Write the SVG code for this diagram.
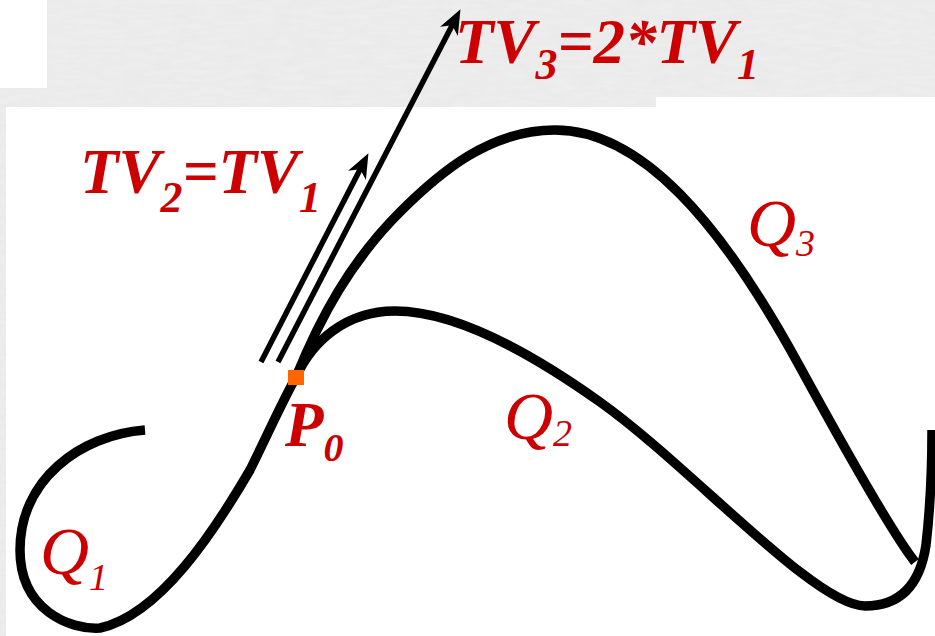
<svg xmlns="http://www.w3.org/2000/svg" width="935" height="636" viewBox="0 0 935 636">
<defs>
<style>
.bg{fill:#efefef}
.curve{fill:none;stroke:#000;stroke-width:9.5;stroke-linejoin:round}
.vec{fill:none;stroke:#000;stroke-width:5.5}
</style>
<filter id="tex" x="0" y="0" width="100%" height="100%">
<feTurbulence type="fractalNoise" baseFrequency="0.04 0.2" numOctaves="3" seed="4"/>
<feColorMatrix values="0 0 0 0 0.6  0 0 0 0 0.6  0 0 0 0 0.6  0 0 0 0.2 0"/>
</filter>
<marker id="arr" markerUnits="userSpaceOnUse" markerWidth="50" markerHeight="50" refX="0" refY="0" viewBox="-25 -25 50 50" orient="auto">
<path d="M13,0 L-12,-10 L-5,0 L-12,10 Z" fill="#000"/>
</marker>
</defs>
<g id="background">
<rect class="bg" x="0" y="0" width="935" height="636"/>
<rect x="0" y="0" width="935" height="636" filter="url(#tex)"/>
<rect x="0" y="0" width="47" height="88" fill="#fff"/>
<rect x="6" y="107" width="929" height="529" fill="#fff"/>
<rect x="656" y="97" width="279" height="12" fill="#fff"/>
</g>
<g id="connectors">
<path id="Q1" class="curve" d="M145,430 C80,435 20,480 20,550 C20,610 70,630 100,628 C160,615 215,530 250,470 C265,440 282,402 296,377"/>
<path id="Q2" class="curve" d="M296,377 C312,342 345,311 395,311 C450,311 520,345 600,402 C690,466 815,606 865,606 C900,606 920,585 926,545 C930,510 932,470 932,430"/>
<path id="Q3" class="curve" d="M296,377 C320,318 350,262 400,212 C440,172 490,130 555,130 C640,130 720,220 800,367 C835,431 890,530 915,562"/>
<line id="TV2" class="vec" x1="261" y1="362" x2="362.5" y2="164.7" marker-end="url(#arr)"/>
<line id="TV3" class="vec" x1="278" y1="362" x2="454.5" y2="20.7" marker-end="url(#arr)"/>
</g>
<g fill="#cc0000" font-family="'Liberation Serif', 'Times New Roman', serif" font-style="italic">
<g id="P0">
<rect x="288" y="370" width="16" height="15" fill="#ff6600"/>
<text font-weight="bold" x="285" y="446" font-size="63">P<tspan font-size="40" dy="15">0</tspan></text>
</g>
<g id="label-TV3">
<text font-weight="bold" x="455" y="63" font-size="63">TV<tspan font-size="44" dy="16">3</tspan><tspan dy="-16">=2*TV</tspan><tspan font-size="44" dy="16">1</tspan></text>
</g>
<g id="label-TV2">
<text font-weight="bold" x="80" y="193" font-size="63">TV<tspan font-size="44" dy="19">2</tspan><tspan dy="-19">=TV</tspan><tspan font-size="44" dy="19">1</tspan></text>
</g>
<g id="label-Q1">
<text x="40" y="574" font-size="68">Q<tspan font-size="38" dy="16">1</tspan></text>
</g>
<g id="label-Q2">
<text x="504" y="439" font-size="68">Q<tspan font-size="38" dy="7">2</tspan></text>
</g>
<g id="label-Q3">
<text x="747" y="246" font-size="68">Q<tspan font-size="38" dy="10">3</tspan></text>
</g>
</g>
</svg>
